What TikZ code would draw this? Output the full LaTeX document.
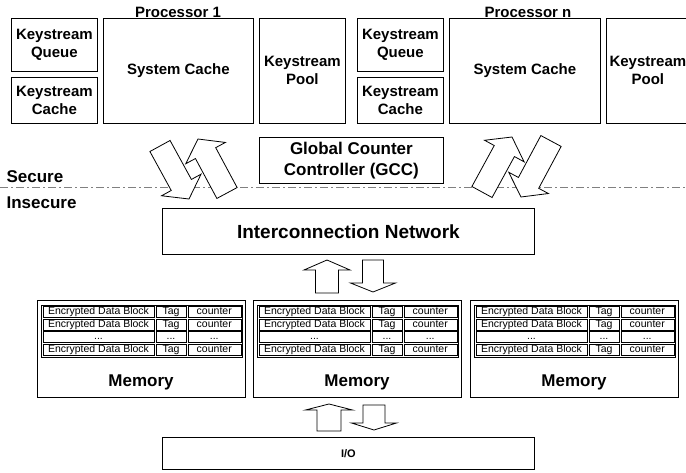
\documentclass[tikz,border=0pt]{standalone}
\usepackage{fontspec}
\setmainfont{Liberation Sans}
\usetikzlibrary{calc}

% block arrow from tail to tip: #3 shaft half width, #4 head half width, #5 head length
\newcommand{\blockarrow}[5]{%
  \coordinate (ba-base) at ($(#2)!#5!(#1)$);
  \filldraw[blockline] ($(#1)!#3!90:(#2)$) -- ($(ba-base)!#3!-90:(#1)$)
    -- ($(ba-base)!#4!-90:(#1)$) -- (#2) -- ($(ba-base)!#4!90:(#1)$)
    -- ($(ba-base)!#3!90:(#1)$) -- ($(#1)!#3!-90:(#2)$) -- cycle;
}
\newcommand{\celldots}{...}

\tikzset{
  box/.style={draw, line width=0.8pt, inner sep=0pt, align=center, anchor=north west,
    font=\bfseries\fontsize{15}{18}\selectfont},
  cell/.style={draw, line width=0.5pt, inner sep=0pt, anchor=north west,
    minimum height=11pt, text height=7.4pt, text depth=2pt,
    font=\fontsize{10.5}{12}\selectfont},
  blockline/.style={fill=white, draw=black, line width=0.8pt},
  title/.style={font=\bfseries\fontsize{15}{18}\selectfont},
  zone/.style={anchor=west, font=\bfseries\fontsize{17}{20}\selectfont},
}

\begin{document}
\begin{tikzpicture}[x=1pt, y=-1pt]
    \definecolor{borderColour}{HTML}{808080}
    \useasboundingbox (0,0) rectangle (686,473);

    % Processor 1
    \node[title] (proc1) at (178,12) {Processor 1};
    \node[box, minimum width=86pt, minimum height=53pt] (kq1) at (11,18) {Keystream\\Queue};
    \node[box, minimum width=86pt, minimum height=46pt] (kc1) at (11,77) {Keystream\\Cache};
    \node[box, minimum width=150pt, minimum height=105pt] (sc1) at (103,18) {System Cache};
    \node[box, minimum width=86pt, minimum height=105pt] (kp1) at (259,18) {Keystream\\Pool};

    % Processor n
    \node[title] (procn) at (528,12) {Processor n};
    \node[box, minimum width=86pt, minimum height=53pt] (kqn) at (357,18) {Keystream\\Queue};
    \node[box, minimum width=86pt, minimum height=46pt] (kcn) at (357,77) {Keystream\\Cache};
    \node[box, minimum width=151pt, minimum height=105pt] (scn) at (449,18) {System Cache};
    \node[box, minimum width=83pt, minimum height=105pt] (kpn) at (606,18) {Keystream\\Pool};

    % Global counter controller
    \node[box, minimum width=184pt, minimum height=46pt, font=\bfseries\fontsize{17}{21}\selectfont]
        (gcc) at (259,137) {Global Counter\\Controller (GCC)};

    % Secure / insecure border
    \coordinate (bl) at (0,188);
    \coordinate (br) at (686,188);
    \draw[borderColour, line width=1pt, dash pattern=on 8pt off 3pt on 2pt off 3pt] (bl) -- (br);
    \node[zone] (secure) at (3,177) {Secure};
    \node[zone] (insecure) at (3,203) {Insecure};

    % Interconnection network
    \node[box, minimum width=372pt, minimum height=46pt, font=\bfseries\fontsize{19}{22}\selectfont]
        (net) at (162,208) {Interconnection Network};

    % Processor <-> network arrows
    \coordinate (a1-tail) at (160,146);  \coordinate (a1-tip) at (189,199);
    \coordinate (b1-tail) at (227,193);  \coordinate (b1-tip) at (198,139);
    \coordinate (an-tail) at (482,192);  \coordinate (an-tip) at (512,137);
    \coordinate (bn-tail) at (551,141);  \coordinate (bn-tip) at (521,197);
    \blockarrow{a1-tail}{a1-tip}{11.5pt}{22.5pt}{16pt}
    \blockarrow{b1-tail}{b1-tip}{11.5pt}{22.5pt}{16pt}
    \blockarrow{an-tail}{an-tip}{11.5pt}{22.5pt}{16pt}
    \blockarrow{bn-tail}{bn-tip}{11.5pt}{22.5pt}{16pt}

    % Memories
    \foreach \i/\x in {1/37, 2/253, 3/470} {
        \node[box, minimum width=208pt, minimum height=97pt] (mem\i) at (\x,300) {};
        \draw[line width=0.5pt] (\x+4,305) rectangle (\x+205,357);
        \foreach \r/\y/\ta/\tb/\tc in {1/306.5/Encrypted Data Block/Tag/counter,
                                        2/319/Encrypted Data Block/Tag/counter,
                                        3/331.5/\celldots/\celldots/\celldots,
                                        4/344/Encrypted Data Block/Tag/counter} {
            \node[cell, minimum width=111.5pt] (m\i-\r-a) at (\x+5.5,\y) {\ta};
            \node[cell, minimum width=29.5pt] (m\i-\r-b) at (\x+119,\y) {\tb};
            \node[cell, minimum width=53pt] (m\i-\r-c) at (\x+150.5,\y) {\tc};
        }
        \node[font=\bfseries\fontsize{17}{20}\selectfont] (meml\i) at (\x+104,382) {Memory};
    }

    % Network <-> memory arrows
    \coordinate (nu-tail) at (327,293);  \coordinate (nu-tip) at (327,260);
    \coordinate (nd-tail) at (373,260);  \coordinate (nd-tip) at (373,292);
    \blockarrow{nu-tail}{nu-tip}{11.5pt}{23pt}{10pt}
    \blockarrow{nd-tail}{nd-tip}{10.5pt}{22.5pt}{9pt}

    % I/O
    \node[box, minimum width=372pt, minimum height=32pt, font=\bfseries\fontsize{11}{13}\selectfont]
        (io) at (162,437) {I/O};

    % Memory <-> I/O arrows
    \coordinate (iu-tail) at (329,431);  \coordinate (iu-tip) at (329,404);
    \coordinate (id-tail) at (374,405);  \coordinate (id-tip) at (374,430);
    \blockarrow{iu-tail}{iu-tip}{12pt}{23.5pt}{6pt}
    \blockarrow{id-tail}{id-tip}{11pt}{22.5pt}{7pt}

\end{tikzpicture}
\end{document}
